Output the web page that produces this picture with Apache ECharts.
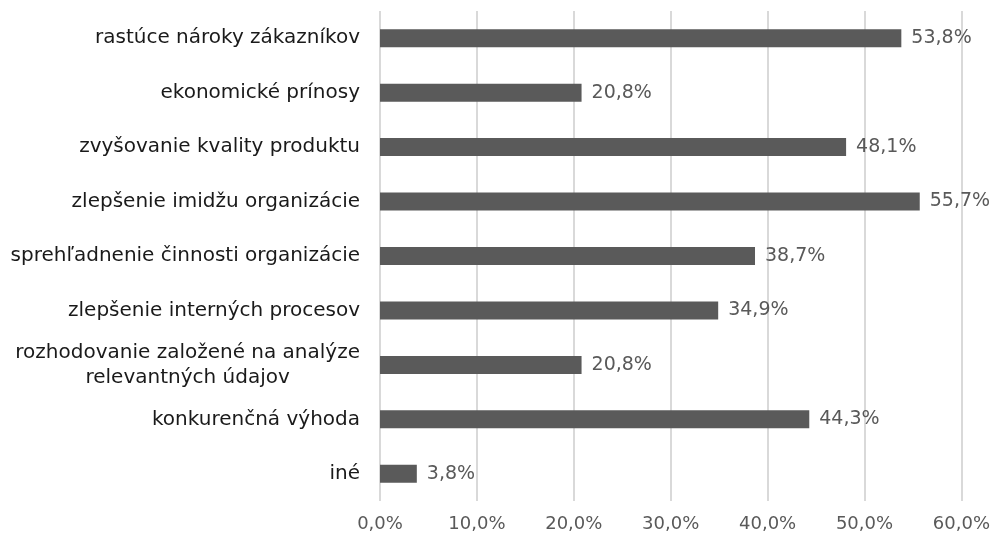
<!DOCTYPE html>
<html>
<head>
<meta charset="utf-8">
<script src="https://cdn.jsdelivr.net/npm/echarts@6/dist/echarts.min.js"></script>
<style>
  html, body { margin: 0; padding: 0; background: #fff; }
  #chart { width: 993px; height: 540px; }
</style>
</head>
<body>
<div id="chart"></div>
<script>
const categories = [
  "rastúce nároky zákazníkov",
  "ekonomické prínosy",
  "zvyšovanie kvality produktu",
  "zlepšenie imidžu organizácie",
  "sprehľadnenie činnosti organizácie",
  "zlepšenie interných procesov",
  "rozhodovanie založené na analýze\nrelevantných údajov",
  "konkurenčná výhoda",
  "iné"
];
const values = [53.8, 20.8, 48.1, 55.7, 38.7, 34.9, 20.8, 44.3, 3.8];
const tickValues = [0, 10, 20, 30, 40, 50, 60];

const font = "DejaVu Sans, Verdana, sans-serif";

function pct(v) {
  return v.toFixed(1).replace(".", ",") + "%";
}

const chart = echarts.init(document.getElementById("chart"));

chart.setOption({
  backgroundColor: "#fff",
  animation: false,
  grid: { left: 380, right: 31, top: 11, bottom: 39, containLabel: false },
  xAxis: {
    type: "value",
    min: tickValues[0],
    max: tickValues[tickValues.length - 1],
    interval: 10,
    axisLine: { show: false },
    axisTick: { show: false },
    splitLine: { lineStyle: { color: "#d9d9d9", width: 2 } },
    axisLabel: {
      formatter: (v) => pct(v),
      color: "#595959",
      fontFamily: font,
      fontSize: 18,
      margin: 14
    }
  },
  yAxis: {
    type: "category",
    inverse: true,
    data: categories,
    axisLine: { show: false },
    axisTick: { show: false },
    axisLabel: {
      color: "#1a1a1a",
      fontFamily: font,
      fontSize: 20,
      margin: 20,
      lineHeight: 25,
      formatter: (v) => {
        if (v.indexOf("\n") < 0) return v;
        return v.split("\n").map((s) => "{c|" + s + "}").join("\n");
      },
      rich: {
        c: { align: "center", fontFamily: font, fontSize: 20, color: "#1a1a1a", lineHeight: 25 }
      }
    }
  },
  series: [
    {
      type: "bar",
      data: values,
      barWidth: 18,
      itemStyle: { color: "#5a5a5a" },
      label: {
        show: true,
        position: "right",
        distance: 10,
        formatter: (p) => pct(p.value),
        color: "#595959",
        fontFamily: font,
        fontSize: 19
      }
    }
  ]
});
</script>
</body>
</html>
